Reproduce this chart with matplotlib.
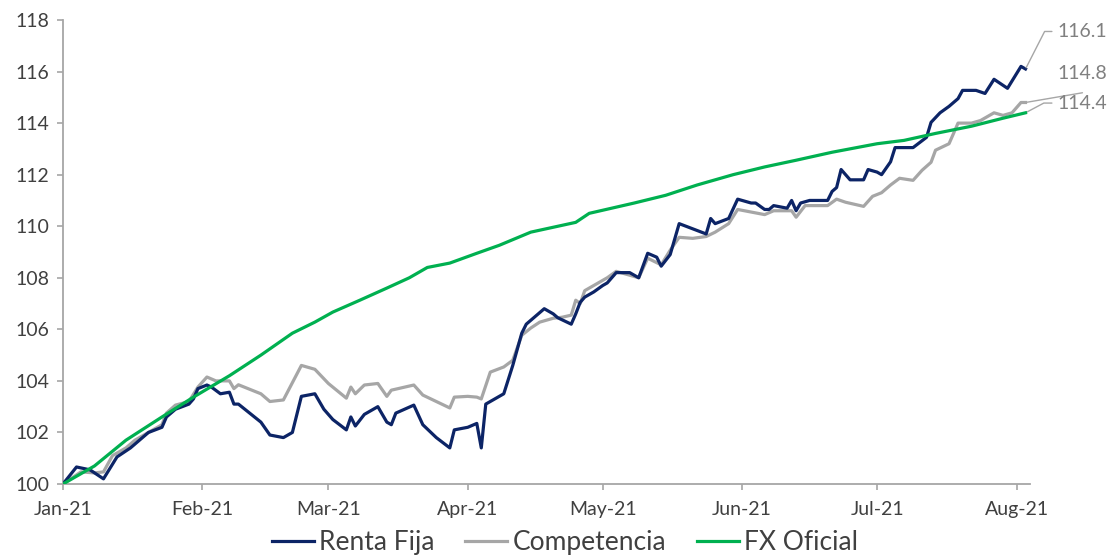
import matplotlib
matplotlib.use('Agg')
import matplotlib.pyplot as plt
import pandas as pd

plt.rcParams['font.family'] = ['Lato', 'DejaVu Sans']

# Renta Fija (navy)
rf_dates = ['2021-01-01', '2021-01-04', '2021-01-07', '2021-01-10', '2021-01-13', '2021-01-16',
            '2021-01-18', '2021-01-20', '2021-01-23', '2021-01-24', '2021-01-26', '2021-01-29',
            '2021-01-30', '2021-01-31', '2021-02-02', '2021-02-03', '2021-02-05', '2021-02-07',
            '2021-02-08', '2021-02-09', '2021-02-14', '2021-02-16', '2021-02-19', '2021-02-21',
            '2021-02-23', '2021-02-26', '2021-02-28', '2021-03-02', '2021-03-05', '2021-03-06',
            '2021-03-07', '2021-03-09', '2021-03-12', '2021-03-14', '2021-03-15', '2021-03-16',
            '2021-03-20', '2021-03-22', '2021-03-25', '2021-03-28', '2021-03-29', '2021-04-01',
            '2021-04-03', '2021-04-04', '2021-04-05', '2021-04-07', '2021-04-09', '2021-04-11',
            '2021-04-13', '2021-04-14', '2021-04-16', '2021-04-18', '2021-04-20', '2021-04-21',
            '2021-04-24', '2021-04-25', '2021-04-26', '2021-04-27', '2021-04-29', '2021-05-01',
            '2021-05-02', '2021-05-04', '2021-05-07', '2021-05-09', '2021-05-11', '2021-05-13',
            '2021-05-14', '2021-05-16', '2021-05-18', '2021-05-21', '2021-05-24', '2021-05-25',
            '2021-05-26', '2021-05-29', '2021-05-31', '2021-06-03', '2021-06-04', '2021-06-06',
            '2021-06-07', '2021-06-08', '2021-06-11', '2021-06-12', '2021-06-13', '2021-06-14',
            '2021-06-16', '2021-06-20', '2021-06-21', '2021-06-22', '2021-06-23', '2021-06-25',
            '2021-06-28', '2021-06-29', '2021-07-01', '2021-07-02', '2021-07-04', '2021-07-05',
            '2021-07-09', '2021-07-12', '2021-07-13', '2021-07-15', '2021-07-17', '2021-07-19',
            '2021-07-20', '2021-07-23', '2021-07-25', '2021-07-27', '2021-07-30', '2021-08-02',
            '2021-08-03']
rf_values = [100.0, 100.66, 100.55, 100.2, 101.05, 101.4,
             101.7, 102.0, 102.2, 102.6, 102.9, 103.1,
             103.3, 103.7, 103.84, 103.76, 103.5, 103.56,
             103.1, 103.1, 102.4, 101.9, 101.8, 102.0,
             103.4, 103.5, 102.9, 102.5, 102.1, 102.6,
             102.25, 102.7, 103.0, 102.4, 102.3, 102.75,
             103.06, 102.3, 101.8, 101.4, 102.1, 102.2,
             102.35, 101.4, 103.1, 103.3, 103.5, 104.6,
             105.85, 106.2, 106.5, 106.8, 106.6, 106.45,
             106.2, 106.6, 107.05, 107.25, 107.45, 107.7,
             107.8, 108.2, 108.2, 108.0, 108.95, 108.8,
             108.45, 108.9, 110.1, 109.9, 109.7, 110.3,
             110.1, 110.3, 111.05, 110.9, 110.9, 110.65,
             110.65, 110.8, 110.7, 111.0, 110.6, 110.9,
             111.0, 111.0, 111.35, 111.5, 112.2, 111.8,
             111.8, 112.2, 112.1, 112.0, 112.5, 113.05,
             113.05, 113.45, 114.03, 114.4, 114.65, 114.95,
             115.27, 115.27, 115.15, 115.7, 115.35, 116.2,
             116.1]

# Competencia (gray)
comp_dates = ['2021-01-01', '2021-01-05', '2021-01-08', '2021-01-10', '2021-01-12', '2021-01-15',
              '2021-01-17', '2021-01-20', '2021-01-23', '2021-01-24', '2021-01-26', '2021-01-29',
              '2021-01-31', '2021-02-02', '2021-02-04', '2021-02-07', '2021-02-08', '2021-02-09',
              '2021-02-14', '2021-02-16', '2021-02-19', '2021-02-23', '2021-02-26', '2021-03-01',
              '2021-03-05', '2021-03-06', '2021-03-07', '2021-03-09', '2021-03-12', '2021-03-14',
              '2021-03-15', '2021-03-20', '2021-03-22', '2021-03-28', '2021-03-29', '2021-04-01',
              '2021-04-03', '2021-04-04', '2021-04-06', '2021-04-09', '2021-04-11', '2021-04-13',
              '2021-04-15', '2021-04-17', '2021-04-20', '2021-04-22', '2021-04-24', '2021-04-25',
              '2021-04-26', '2021-04-27', '2021-04-29', '2021-05-02', '2021-05-04', '2021-05-09',
              '2021-05-11', '2021-05-14', '2021-05-16', '2021-05-18', '2021-05-21', '2021-05-24',
              '2021-05-26', '2021-05-29', '2021-05-31', '2021-06-06', '2021-06-08', '2021-06-12',
              '2021-06-13', '2021-06-15', '2021-06-20', '2021-06-22', '2021-06-24', '2021-06-28',
              '2021-06-30', '2021-07-02', '2021-07-04', '2021-07-06', '2021-07-09', '2021-07-11',
              '2021-07-13', '2021-07-14', '2021-07-17', '2021-07-19', '2021-07-22', '2021-07-24',
              '2021-07-27', '2021-07-29', '2021-07-31', '2021-08-02', '2021-08-03']
comp_values = [100.0, 100.47, 100.43, 100.47, 101.1, 101.4,
               101.7, 102.0, 102.3, 102.75, 103.06, 103.2,
               103.76, 104.15, 104.0, 104.0, 103.7, 103.85,
               103.5, 103.2, 103.26, 104.6, 104.45, 103.9,
               103.33, 103.76, 103.5, 103.84, 103.9, 103.4,
               103.64, 103.84, 103.45, 102.95, 103.37, 103.4,
               103.37, 103.3, 104.34, 104.54, 104.8, 105.77,
               106.05, 106.28, 106.43, 106.47, 106.55, 107.13,
               107.0, 107.5, 107.7, 108.0, 108.25, 108.0,
               108.76, 108.5, 109.07, 109.57, 109.53, 109.6,
               109.77, 110.1, 110.65, 110.45, 110.6, 110.6,
               110.35, 110.8, 110.8, 111.05, 110.93, 110.77,
               111.16, 111.3, 111.6, 111.86, 111.78, 112.17,
               112.48, 112.95, 113.2, 114.0, 114.0, 114.1,
               114.4, 114.3, 114.4, 114.8, 114.8]

# FX Oficial (green)
fx_dates = ['2021-01-01', '2021-01-08', '2021-01-15', '2021-01-23', '2021-01-30', '2021-02-07',
            '2021-02-14', '2021-02-21', '2021-02-26', '2021-03-02', '2021-03-08', '2021-03-14',
            '2021-03-19', '2021-03-23', '2021-03-28', '2021-04-03', '2021-04-08', '2021-04-15',
            '2021-04-25', '2021-04-28', '2021-05-03', '2021-05-08', '2021-05-15', '2021-05-22',
            '2021-05-30', '2021-06-06', '2021-06-13', '2021-06-21', '2021-07-01', '2021-07-07',
            '2021-07-14', '2021-07-22', '2021-07-29', '2021-08-03']
fx_values = [100.0, 100.7, 101.7, 102.6, 103.37, 104.2,
             105.0, 105.85, 106.28, 106.67, 107.13, 107.6,
             108.0, 108.4, 108.57, 108.95, 109.26, 109.77,
             110.15, 110.5, 110.7, 110.9, 111.2, 111.6,
             112.0, 112.3, 112.56, 112.87, 113.2, 113.33,
             113.6, 113.88, 114.19, 114.4]

month_ticks = ['2021-01-01', '2021-02-01', '2021-03-01', '2021-04-01',
               '2021-05-01', '2021-06-01', '2021-07-01', '2021-08-01']
month_labels = ['Jan-21', 'Feb-21', 'Mar-21', 'Apr-21', 'May-21', 'Jun-21', 'Jul-21', 'Aug-21']

navy = '#0c2466'
gray = '#a6a6a6'
green = '#00b050'
txt = '#404040'

fig = plt.figure(figsize=(11.1, 5.55), dpi=100)
ax = fig.add_axes([63 / 1110, 71 / 555, 967 / 1110, 464 / 555])

ax.plot(pd.to_datetime(comp_dates), comp_values, color=gray, lw=2.3, label='Competencia', zorder=2)
ax.plot(pd.to_datetime(rf_dates), rf_values, color=navy, lw=2.3, label='Renta Fija', zorder=3)
ax.plot(pd.to_datetime(fx_dates), fx_values, color=green, lw=2.3, label='FX Oficial', zorder=4)

ax.set_ylim(100, 118)
ax.set_yticks(range(100, 119, 2))
ax.set_xlim(pd.Timestamp('2021-01-01'), pd.Timestamp('2021-08-04'))
ax.set_xticks(pd.to_datetime(month_ticks))
ax.set_xticklabels(month_labels)

for s in ['top', 'right']:
    ax.spines[s].set_visible(False)
for s in ['left', 'bottom']:
    ax.spines[s].set_color(gray)
    ax.spines[s].set_linewidth(1.3)
ax.tick_params(axis='both', colors=gray, length=4, width=1.2, labelcolor=txt, labelsize=14)
ax.tick_params(axis='y', pad=6)
ax.tick_params(axis='x', pad=8)

# end labels
ann = dict(textcoords='offset points', fontsize=14, color='#808080', va='center', ha='left',
           annotation_clip=False)
ax.annotate('116.1', xy=(pd.Timestamp(rf_dates[-1]), rf_values[-1]), xytext=(23, 27),
            arrowprops=dict(arrowstyle='-', color=gray, lw=1, shrinkA=2, shrinkB=1,
                            connectionstyle='angle,angleA=180,angleB=63,rad=0'), **ann)
ax.annotate('114.8', xy=(pd.Timestamp(comp_dates[-1]), comp_values[-1]), xytext=(23, 21),
            **ann)
ax.annotate('', xy=(pd.Timestamp(comp_dates[-1]), comp_values[-1]), xytext=(41, 7),
            arrowprops=dict(arrowstyle='-', color=gray, lw=1, shrinkA=0, shrinkB=1),
            textcoords='offset points', annotation_clip=False)
ax.annotate('114.4', xy=(pd.Timestamp(fx_dates[-1]), fx_values[-1]), xytext=(23, 7),
            arrowprops=dict(arrowstyle='-', color=gray, lw=1, shrinkA=2, shrinkB=1,
                            connectionstyle='angle,angleA=180,angleB=28,rad=0'), **ann)

handles, labels = ax.get_legend_handles_labels()
order = [1, 0, 2]
fig.legend([handles[i] for i in order], [labels[i] for i in order], loc='lower center',
           bbox_to_anchor=(0.509, -0.043), ncol=3, frameon=False, fontsize=19,
           handlelength=1.6, handletextpad=0.2, columnspacing=1.15, labelcolor=txt)

fig.savefig('out.png', dpi=100)
